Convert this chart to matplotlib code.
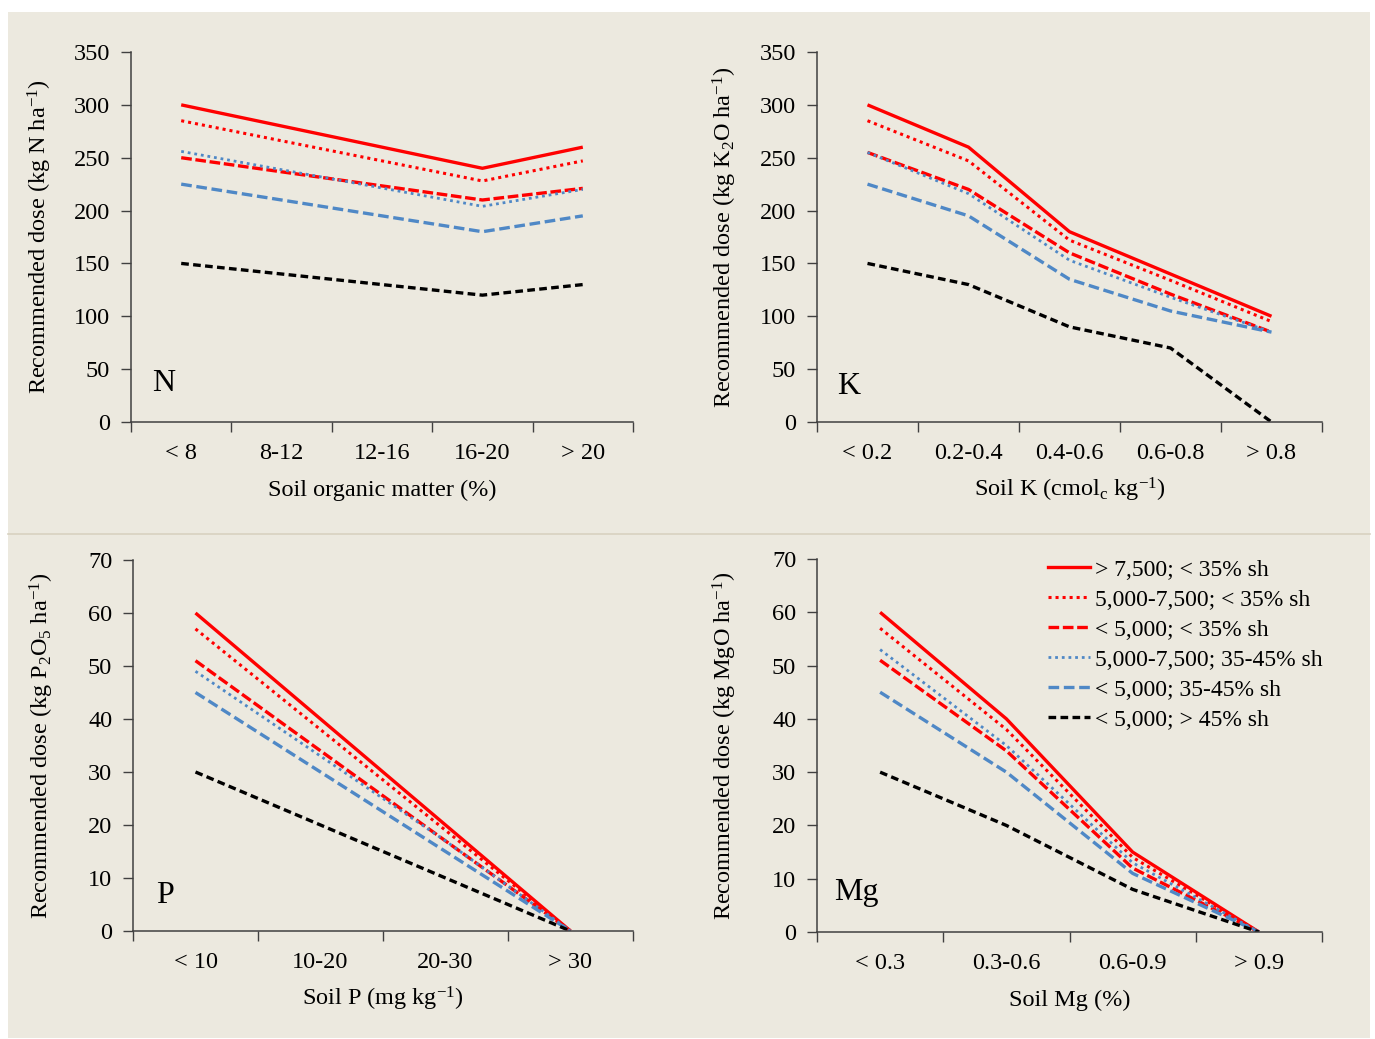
#!/usr/bin/env python3
"""Recommended fertiliser doses for N, K, P and Mg by soil class (four panels)."""

import matplotlib

matplotlib.use("Agg")
import matplotlib.pyplot as plt  # noqa: E402
import numpy as np  # noqa: E402
from matplotlib.lines import Line2D  # noqa: E402
from matplotlib.patches import Rectangle  # noqa: E402

nan = np.nan

SERIES_LABELS = [
    "> 7,500; < 35% sh",
    "5,000-7,500; < 35% sh",
    "< 5,000; < 35% sh",
    "5,000-7,500; 35-45% sh",
    "< 5,000; 35-45% sh",
    "< 5,000; > 45% sh",
]

# N panel (middle classes have no value; the line is drawn straight across)
n_cats = ["< 8", "8-12", "12-16", "16-20", "> 20"]
n_vals = [
    [300, nan, nan, 240, 260],
    [285, nan, nan, 228, 247],
    [250, nan, nan, 210, 221],
    [256, nan, nan, 204, 220],
    [225, nan, nan, 180, 195],
    [150, nan, nan, 120, 130],
]

# K panel
k_cats = ["< 0.2", "0.2-0.4", "0.4-0.6", "0.6-0.8", "> 0.8"]
k_vals = [
    [300, 260, 180, 140, 100],
    [285, 247, 172, 134, 95],
    [255, 220, 160, 121, 85],
    [255, 216, 153, 118, 85],
    [225, 195, 135, 105, 85],
    [150, 130, 90, 70, 0],
]

# P panel
p_cats = ["< 10", "10-20", "20-30", "> 30"]
p_vals = [
    [60, 40, 20, 0],
    [57, 38, 19, 0],
    [51, 34, 17, 0],
    [49, 33, 17, 0],
    [45, 30, 15, 0],
    [30, 20, 10, 0],
]

# Mg panel
mg_cats = ["< 0.3", "0.3-0.6", "0.6-0.9", "> 0.9"]
mg_vals = [
    [60, 40, 15, 0],
    [57, 38, 14, 0],
    [51, 34, 12, 0],
    [53, 35, 13, 0],
    [45, 30, 11, 0],
    [30, 20, 8, 0],
]

RED = "#FF0000"
BLUE = "#4F88C6"
STYLES = [
    dict(color=RED, lw=2.4, ls="-"),
    dict(color=RED, lw=2.2, ls=(0, (1, 1.3))),
    dict(color=RED, lw=2.4, ls=(0, (3.2, 1.1))),
    dict(color=BLUE, lw=2.0, ls=(0, (1, 1.4))),
    dict(color=BLUE, lw=2.4, ls=(0, (3.2, 1.4))),
    dict(color="black", lw=2.4, ls=(0, (2.3, 1.3))),
]

plt.rcParams["font.family"] = ["Liberation Serif", "DejaVu Serif"]
plt.rcParams["mathtext.fontset"] = "custom"
plt.rcParams["mathtext.rm"] = "Liberation Serif"
plt.rcParams["mathtext.it"] = "Liberation Serif:italic"
plt.rcParams["mathtext.bf"] = "Liberation Serif:bold"

FS = 17.5
BG = "#ECE9DF"
SPINE = "#404040"

fig = plt.figure(figsize=(13.75, 10.39), dpi=100)
fig.patch.set_facecolor("white")
W, H = 1375, 1039
fig.patches.append(Rectangle((8 / W, 1 - 1038 / H), (1370 - 8) / W, (1038 - 12) / H,
                             transform=fig.transFigure, facecolor=BG, edgecolor="none", zorder=-10))
fig.add_artist(Line2D([8 / W, 1370 / W], [1 - 534 / H, 1 - 534 / H], transform=fig.transFigure,
                      color="#D8D2C0", lw=1.2))


def px_axes(left, top, right, bottom):
    return fig.add_axes([left / W, 1 - bottom / H, (right - left) / W, (bottom - top) / H])


def draw_panel(ax, cats, vals, ymax, ystep, letter, letter_pos, xlabel, ylabel):
    ax.set_facecolor("none")
    x = np.arange(len(cats))
    for row, st in zip(vals, STYLES):
        y = np.array(row, dtype=float)
        m = ~np.isnan(y)
        ax.plot(x[m], y[m], color=st["color"], lw=st["lw"], linestyle=st["ls"],
                solid_capstyle="butt", dash_capstyle="butt")
    ax.set_xlim(-0.5, len(cats) - 0.5)
    ax.set_ylim(0, ymax)
    ax.set_yticks(np.arange(0, ymax + 1, ystep))
    ax.set_xticks(np.arange(len(cats) + 1) - 0.5)
    ax.set_xticklabels([])
    ax.set_xticks(x, minor=True)
    ax.set_xticklabels(cats, minor=True)
    ax.tick_params(axis="x", which="major", length=7, width=1, color=SPINE, direction="out")
    ax.tick_params(axis="x", which="minor", length=0, pad=15, labelsize=FS)
    ax.tick_params(axis="y", length=7, width=1, color=SPINE, direction="out", pad=8, labelsize=FS)
    for s in ("top", "right"):
        ax.spines[s].set_visible(False)
    for s in ("left", "bottom"):
        ax.spines[s].set_color(SPINE)
        ax.spines[s].set_linewidth(1.1)
    ax.set_xlabel(xlabel, fontsize=FS)
    ax.set_ylabel(ylabel, fontsize=FS)
    ax.xaxis.label.set_verticalalignment("center")
    ax.yaxis.label.set_verticalalignment("center")
    ax.xaxis.set_label_coords(0.5, -0.184)
    ax.yaxis.set_label_coords(-0.182, 0.5)
    ax.text(letter_pos[0], letter_pos[1], letter, transform=ax.transAxes, fontsize=23,
            ha="left", va="center")


ax_n = px_axes(131, 52, 633, 422)
draw_panel(ax_n, n_cats, n_vals, 350, 50, "N", (0.042, 0.105), "Soil organic matter (%)",
           "Recommended dose (kg N ha$^{-1}$)")

ax_k = px_axes(817, 52, 1322, 422)
draw_panel(ax_k, k_cats, k_vals, 350, 50, "K", (0.040, 0.095), "Soil K (cmol$_\\mathrm{c}$ kg$^{-1}$)",
           "Recommended dose (kg K$_2$O ha$^{-1}$)")

ax_p = px_axes(133, 560, 633, 931)
draw_panel(ax_p, p_cats, p_vals, 70, 10, "P", (0.046, 0.095), "Soil P (mg kg$^{-1}$)",
           "Recommended dose (kg P$_2$O$_5$ ha$^{-1}$)")

ax_mg = px_axes(817, 559, 1322, 932)
draw_panel(ax_mg, mg_cats, mg_vals, 70, 10, "Mg", (0.034, 0.105), "Soil Mg (%)",
           "Recommended dose (kg MgO ha$^{-1}$)")

handles = [Line2D([], [], color=st["color"], lw=st["lw"], linestyle=st["ls"]) for st in STYLES]
ax_mg.legend(handles, SERIES_LABELS, loc="upper left", bbox_to_anchor=(0.457, 1.0),
             frameon=False, fontsize=17, handlelength=1.78, handletextpad=0.2,
             labelspacing=0.36, borderpad=0, borderaxespad=0)

fig.savefig("out.png", dpi=100, facecolor=fig.get_facecolor())
